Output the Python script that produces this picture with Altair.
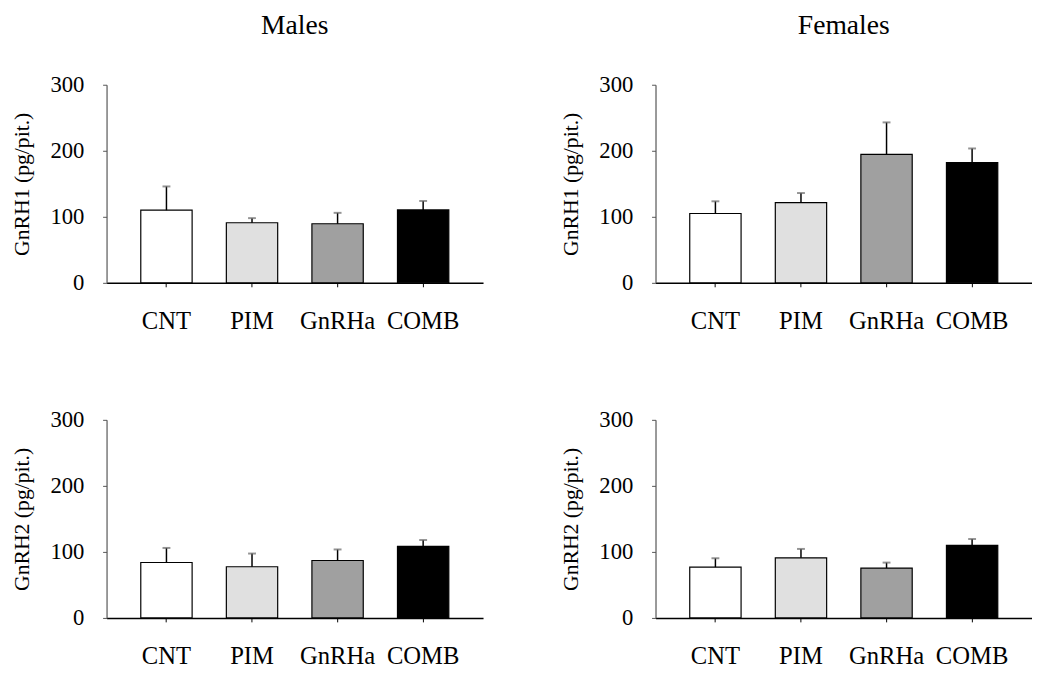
import altair as alt
import pandas as pd

categories = ["CNT", "PIM", "GnRHa", "COMB"]
fills = ["#ffffff", "#e0e0e0", "#a0a0a0", "#000000"]

males_h1 = [110, 91, 89.5, 110.5]
males_h1_se = [36, 7, 16.5, 13.5]
females_h1 = [105, 121.5, 194.5, 182]
females_h1_se = [18.5, 14.5, 48.5, 21.5]
males_h2 = [84, 77.5, 87, 108.5]
males_h2_se = [22, 20, 16.7, 9.5]
females_h2 = [77, 91, 75.5, 110]
females_h2_se = [13.4, 13.5, 8.3, 9.5]

FONT = "Liberation Serif"
W, H = 382, 201


def panel(values, se, ytitle, title=None):
    df = pd.DataFrame({
        "group": categories,
        "value": values,
        "upper": [v + s for v, s in zip(values, se)],
    })
    x = alt.X("group:N", sort=categories, title=None,
              scale=alt.Scale(paddingInner=0.4, paddingOuter=0.4),
              axis=alt.Axis(labelAngle=0, labelFont=FONT, labelFontSize=25,
                            labelColor="#000", labelPadding=22, ticks=True,
                            tickSize=4, tickWidth=1, labelAlign="center",
                            tickColor="#000", domainColor="#000", domainWidth=1.5,
                            grid=False))
    y = alt.Y("value:Q", title=ytitle,
              scale=alt.Scale(domain=[0, 300], nice=False),
              axis=alt.Axis(values=[0, 100, 200, 300], labelFont=FONT,
                            labelFontSize=23, labelColor="#000", labelPadding=19,
                            tickSize=4, tickColor="#555", domainColor="#555",
                            domainWidth=1.2, titleFont=FONT, titleFontSize=22,
                            titleFontWeight="normal", titleColor="#000",
                            titlePadding=17, grid=False))
    base = alt.Chart(df)
    bars = base.mark_bar(stroke="#000", strokeWidth=1.2).encode(
        x=x, y=y,
        color=alt.Color("group:N", sort=categories,
                        scale=alt.Scale(domain=categories, range=fills),
                        legend=None),
    )
    err = base.mark_rule(color="#000", strokeWidth=1.5).encode(
        x=x, y=y, y2="upper:Q")
    cap = base.mark_tick(color="#666", size=8, thickness=2,
                         orient="horizontal").encode(
        x=x, y=alt.Y("upper:Q", scale=alt.Scale(domain=[0, 300], nice=False)))
    props = dict(width=W, height=H)
    if title:
        props["title"] = alt.TitleParams(title, font=FONT, fontSize=28,
                                         fontWeight="normal", color="#000",
                                         offset=34)
    return alt.layer(bars, err, cap).properties(**props)


top = alt.hconcat(
    panel(males_h1, males_h1_se, "GnRH1 (pg/pit.)", "Males"),
    panel(females_h1, females_h1_se, "GnRH1 (pg/pit.)", "Females"),
    spacing=77,
)
bottom = alt.hconcat(
    panel(males_h2, males_h2_se, "GnRH2 (pg/pit.)"),
    panel(females_h2, females_h2_se, "GnRH2 (pg/pit.)"),
    spacing=77,
)
chart = alt.vconcat(
    top, bottom, spacing=77,
    padding={"left": 2, "top": 0, "right": 0, "bottom": 0},
).configure_view(strokeWidth=0, stroke="transparent")

chart.save("out.html", embed_options={"renderer": "svg", "actions": False})
